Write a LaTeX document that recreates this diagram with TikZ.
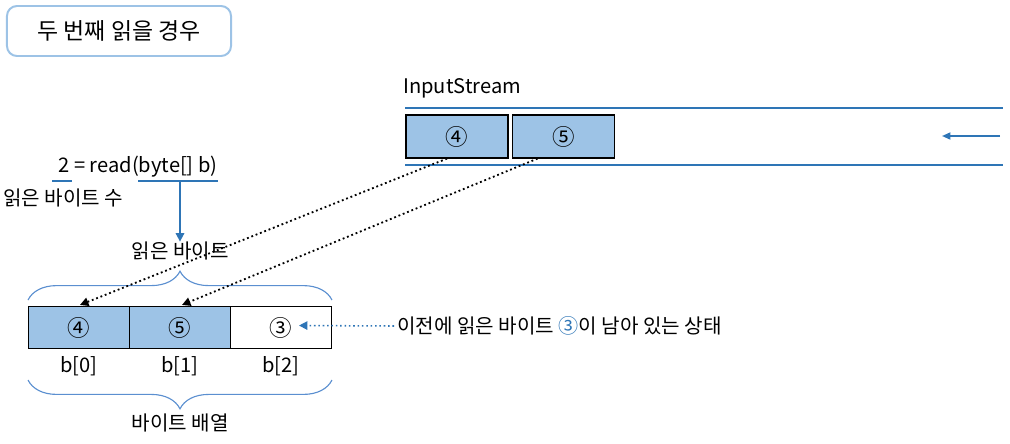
\documentclass[tikz,border=0pt]{standalone}
\usepackage{fontspec}
\setmainfont{Noto Sans CJK KR}
\usetikzlibrary{
  arrows.meta,
  decorations.pathreplacing,
  calc,
}
\definecolor{cellblue}{HTML}{9DC3E6}
\definecolor{lineblue}{HTML}{2E75B6}
\definecolor{braceblue}{HTML}{5B8FD0}

\tikzset{
  txt/.style={font=\fontsize{14.3}{17}\selectfont, inner sep=0pt},
  cell/.style={draw=black, line width=0.8pt, minimum width=2.53cm, minimum height=1.05cm,
    inner sep=0pt, font=\fontsize{16}{18}\selectfont},
  bracestyle/.style={draw=braceblue, line width=0.8pt, decorate,
    decoration={brace, amplitude=0.72cm}},
  dotarrow/.style={dotted, line width=1.3pt, -{Triangle[length=6pt,width=6pt]}},
}

\begin{document}
\begin{tikzpicture}[x=0.025cm, y=-0.025cm]
  \useasboundingbox (0,0) rectangle (1010,443);

  % title
  \node[draw=cellblue, line width=1.4pt, rounded corners=0.25cm, minimum width=5.6cm,
    minimum height=1.25cm, font=\fontsize{16.3}{18}\selectfont] (title) at (119,31) {두 번째 읽을 경우};

  % input stream
  \node[txt, anchor=west] (instream) at (403,88) {InputStream};
  \draw[lineblue, line width=1.4pt] (405,108) -- (1003,108);
  \draw[lineblue, line width=1.4pt] (405,165) -- (1003,165);
  \node[cell, fill=cellblue, minimum width=2.55cm, minimum height=1.075cm] (s4) at (457,136.5) {④};
  \node[cell, fill=cellblue, minimum width=2.55cm, minimum height=1.075cm] (s5) at (563.5,136.5) {⑤};
  \coordinate (sfrom) at (1000,136);
  \coordinate (sto) at (942,136);
  \draw[lineblue, line width=1.2pt, -{Triangle[length=6pt,width=5pt]}] (sfrom) -- (sto);

  % read call
  \node[txt] (call) at (138,167) {2 = read(byte[] b)};
  \node[txt, anchor=west] (cnt) at (3,198) {읽은 바이트 수};
  \node[txt] (rb) at (180,251) {읽은 바이트};
  \draw[lineblue, line width=1.2pt] (52,181) -- (72,181);
  \draw[lineblue, line width=1.2pt] (138,181) -- (218,181);
  \draw[lineblue, line width=1.2pt, -{Triangle[length=6pt,width=6pt]}] (180,181) -- (rb.north);

  % byte array
  \foreach \i/\v/\f in {0/④/cellblue,1/⑤/cellblue,2/③/white}{
      \node[cell, fill=\f] (a\i) at ({79+101*\i},327.5) {\v};
      \node[txt] (b\i) at ({79+101*\i},366) {b[\i]};
    }
  \draw[bracestyle] (28,300) -- (332,300);
  \draw[bracestyle] (332,380) -- (28,380);
  \node[txt] (arr) at (180,423) {바이트 배열};

  % copied bytes
  \draw[dotarrow] ($(s4.south)+(-10,0)$) -- ($(a0.north)+(1,-1)$);
  \draw[dotarrow] ($(s5.south)+(-26,0)$) -- ($(a1.north)+(2,-1)$);

  % remaining byte
  \node[txt, anchor=west] (prev) at (397,326) {이전에 읽은 바이트 {\color{lineblue}③}이 남아 있는 상태};
  \draw[dotarrow, lineblue, line width=1.1pt] ($(prev.west)+(-3,0)$) -- ($(a2.center)+(18,-2)$);
\end{tikzpicture}
\end{document}
